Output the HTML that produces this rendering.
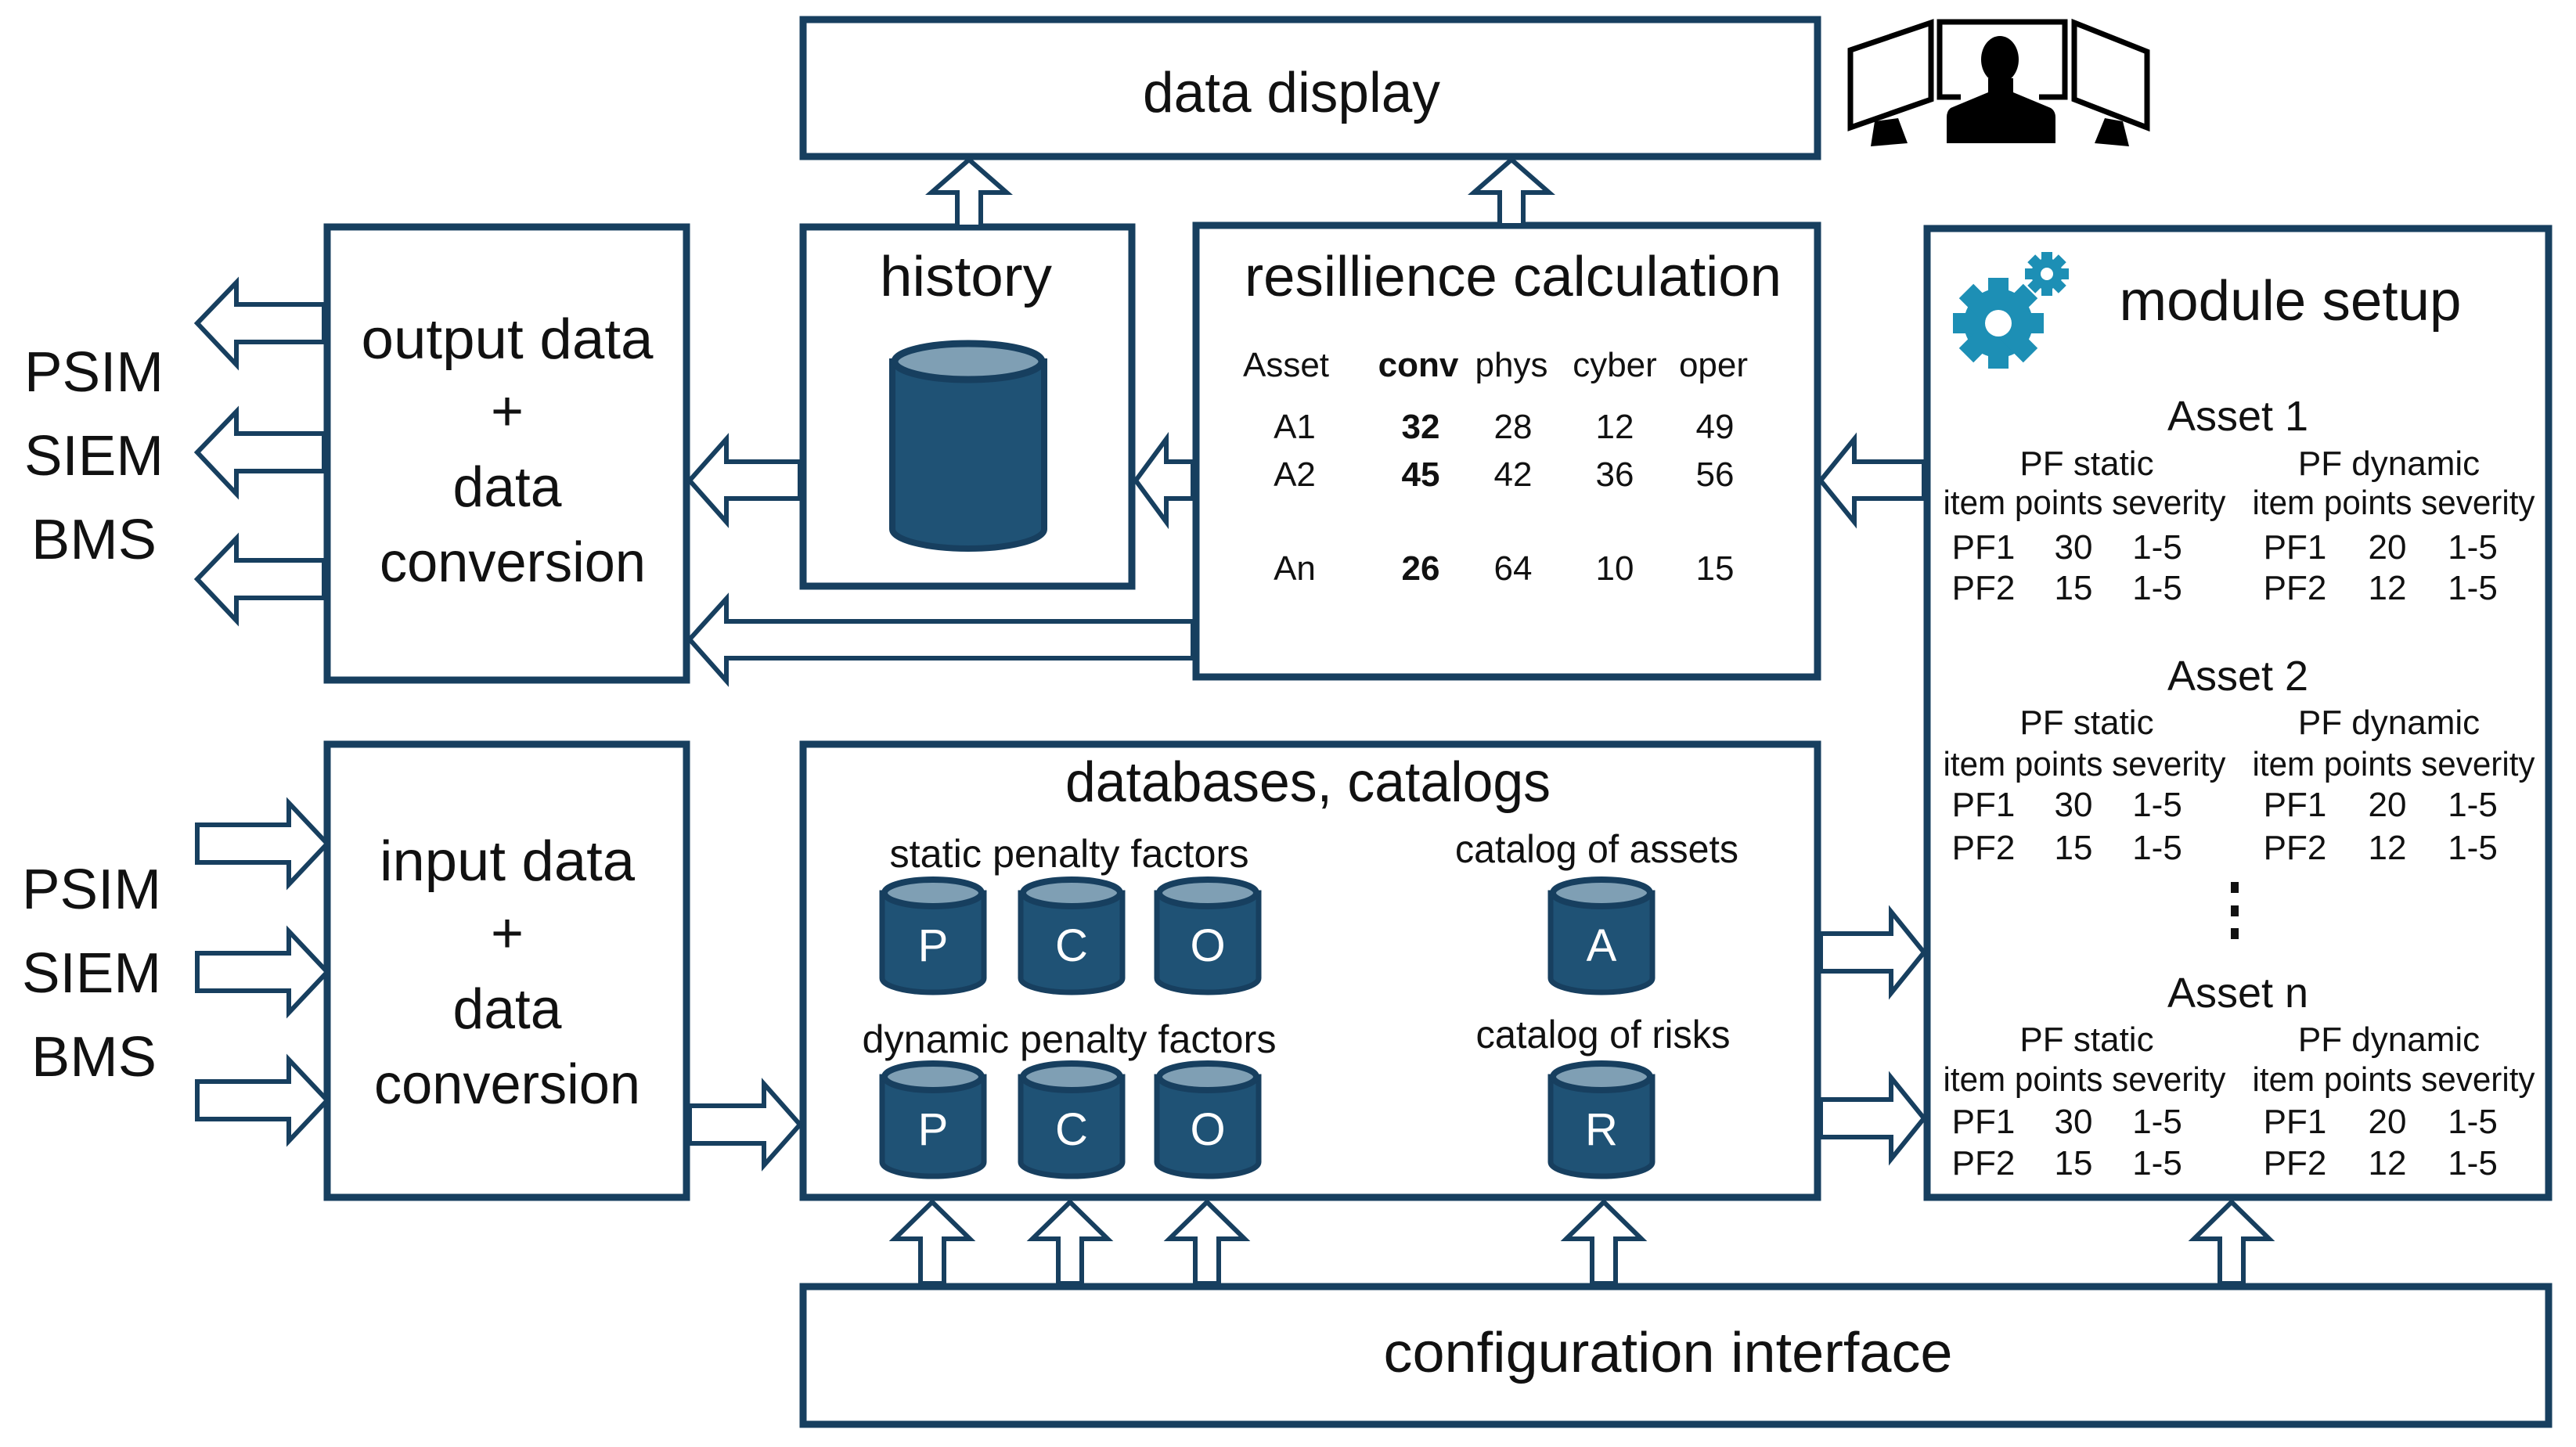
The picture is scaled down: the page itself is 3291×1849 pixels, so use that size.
<!DOCTYPE html>
<html><head><meta charset="utf-8"><style>
html,body{margin:0;padding:0;background:#fff}
svg{display:block}
text{font-family:"Liberation Sans",sans-serif;fill:#111}
</style></head><body>
<svg width="3291" height="1849" viewBox="0 0 3291 1849" xmlns="http://www.w3.org/2000/svg">
<g fill="#fff" stroke="#173f5f" stroke-width="9">
<rect x="1026" y="25" width="1296" height="175"/>
<rect x="1026" y="290" width="420" height="459"/>
<rect x="1528" y="288" width="794" height="577"/>
<rect x="418" y="290" width="459" height="579"/>
<rect x="2462" y="292" width="794" height="1238"/>
<rect x="418" y="951" width="459" height="579"/>
<rect x="1026" y="951" width="1296" height="579"/>
<rect x="1026" y="1644" width="2230" height="176"/>
</g>
<!-- arrows -->
<g fill="#fff" stroke="#173f5f" stroke-width="6" stroke-linejoin="miter">
<!-- up arrows to data display -->
<polygon points="1223,290 1223,246 1190,246 1238,204 1286,246 1253,246 1253,290"/>
<polygon points="1916,288 1916,246 1883,246 1931,204 1979,246 1946,246 1946,288"/>
<!-- left arrows out of output box -->
<polygon points="414,389 302,389 302,361 252,413 302,466 302,437 414,437"/>
<polygon points="414,554 302,554 302,526 252,578 302,631 302,602 414,602"/>
<polygon points="414,716 302,716 302,688 252,740 302,793 302,764 414,764"/>
<!-- history -> output -->
<polygon points="1022,590 928,590 928,561 881,614 928,667 928,637 1022,637"/>
<!-- resilience -> history -->
<polygon points="1524,590 1490,590 1490,561 1451,614 1490,667 1490,637 1524,637"/>
<!-- resilience -> output long -->
<polygon points="1524,794 928,794 928,765 881,817 928,870 928,841 1524,841"/>
<!-- module -> resilience -->
<polygon points="2458,590 2369,590 2369,561 2326,614 2369,667 2369,637 2458,637"/>
<!-- input arrows -->
<polygon points="252,1054 369,1054 369,1026 418,1078 369,1130 369,1102 252,1102"/>
<polygon points="252,1218 369,1218 369,1190 418,1242 369,1294 369,1266 252,1266"/>
<polygon points="252,1382 369,1382 369,1354 418,1406 369,1458 369,1430 252,1430"/>
<!-- input -> databases -->
<polygon points="881,1413 976,1413 976,1385 1022,1437 976,1489 976,1461 881,1461"/>
<!-- databases -> module -->
<polygon points="2326,1193 2416,1193 2416,1165 2458,1217 2416,1269 2416,1241 2326,1241"/>
<polygon points="2326,1405 2416,1405 2416,1377 2458,1429 2416,1481 2416,1453 2326,1453"/>
<!-- up arrows from config -->
<polygon points="1176,1640 1176,1583 1143,1583 1191,1536 1239,1583 1206,1583 1206,1640"/>
<polygon points="1352,1640 1352,1583 1319,1583 1367,1536 1415,1583 1382,1583 1382,1640"/>
<polygon points="1527,1640 1527,1583 1494,1583 1542,1536 1590,1583 1557,1583 1557,1640"/>
<polygon points="2034,1640 2034,1583 2001,1583 2049,1536 2097,1583 2064,1583 2064,1640"/>
<polygon points="2836,1640 2836,1583 2803,1583 2851,1536 2899,1583 2866,1583 2866,1640"/>
</g>
<!-- monitors icon -->
<g stroke="#000" stroke-width="7" fill="none" stroke-linejoin="miter">
<polygon points="2364,64 2467,29 2467,127 2364,163"/>
<rect x="2478" y="28" width="160" height="96"/>
<polygon points="2650,29 2743,66 2743,163 2650,127"/>
</g>
<g fill="#000">
<polygon points="2395,155 2425,151 2437,183 2390,187"/>
<polygon points="2689,151 2712,155 2720,187 2676,183"/>
<rect x="2505" y="118" width="100" height="12" fill="#fff"/>
<ellipse cx="2555" cy="76" rx="24" ry="30"/>
<path d="M2540,100 L2540,118 L2492,138 Q2487,142 2487,150 L2487,183 L2626,183 L2626,150 Q2626,142 2620,138 L2572,118 L2572,100 Z"/>
</g>
<!-- cylinders -->
<defs>
<g id="cyl">
<path d="M-65,18 L-65,127 A65,18 0 0 0 65,127 L65,18 Z" fill="#1f5275" stroke="#173f5f" stroke-width="7"/>
<ellipse cx="0" cy="18" rx="62" ry="17" fill="#7f9fb4" stroke="#173f5f" stroke-width="8"/>
</g>
</defs>
<use href="#cyl" x="1192" y="1123"/>
<use href="#cyl" x="1369" y="1123"/>
<use href="#cyl" x="1543" y="1123"/>
<use href="#cyl" x="2046" y="1123"/>
<use href="#cyl" x="1192" y="1358"/>
<use href="#cyl" x="1369" y="1358"/>
<use href="#cyl" x="1543" y="1358"/>
<use href="#cyl" x="2046" y="1358"/>
<path d="M1140,462 L1140,676 A97,25 0 0 0 1334,676 L1334,462 Z" fill="#1f5275" stroke="#173f5f" stroke-width="8"/>
<ellipse cx="1237" cy="462" rx="94" ry="23" fill="#7f9fb4" stroke="#173f5f" stroke-width="9"/>
<g style="font-size:58px" text-anchor="middle">
<text x="1192" y="1228" style="fill:#fff">P</text>
<text x="1369" y="1228" style="fill:#fff">C</text>
<text x="1543" y="1228" style="fill:#fff">O</text>
<text x="2046" y="1228" style="fill:#fff">A</text>
<text x="1192" y="1463" style="fill:#fff">P</text>
<text x="1369" y="1463" style="fill:#fff">C</text>
<text x="1543" y="1463" style="fill:#fff">O</text>
<text x="2046" y="1463" style="fill:#fff">R</text>
</g>
<!-- gears -->
<g fill="#1d8fb5">
<circle cx="2553" cy="413" r="44"/>
<g transform="translate(2553,413)">
<rect x="-13" y="-58" width="26" height="116"/>
<rect x="-13" y="-58" width="26" height="116" transform="rotate(45)"/>
<rect x="-13" y="-58" width="26" height="116" transform="rotate(90)"/>
<rect x="-13" y="-58" width="26" height="116" transform="rotate(135)"/>
</g>
<circle cx="2615" cy="350" r="20"/>
<g transform="translate(2615,350)">
<rect x="-7" y="-28" width="14" height="56"/>
<rect x="-7" y="-28" width="14" height="56" transform="rotate(45)"/>
<rect x="-7" y="-28" width="14" height="56" transform="rotate(90)"/>
<rect x="-7" y="-28" width="14" height="56" transform="rotate(135)"/>
</g>
</g>
<circle cx="2553" cy="413" r="17" fill="#fff"/>
<circle cx="2615" cy="350" r="8" fill="#fff"/>
<!-- labels -->
<g text-anchor="middle" style="font-size:72px">
<text x="1650" y="143" textLength="380" lengthAdjust="spacingAndGlyphs">data display</text>
<text x="1234" y="378" textLength="220" lengthAdjust="spacingAndGlyphs">history</text>
<text x="1933" y="378" textLength="686" lengthAdjust="spacingAndGlyphs">resillience calculation</text>
<text x="2926" y="409" textLength="437" lengthAdjust="spacingAndGlyphs">module setup</text>
<text x="648" y="458" textLength="373" lengthAdjust="spacingAndGlyphs">output data</text>
<text x="648" y="550">+</text>
<text x="648" y="647" textLength="139" lengthAdjust="spacingAndGlyphs">data</text>
<text x="655" y="743" textLength="340" lengthAdjust="spacingAndGlyphs">conversion</text>
<text x="648" y="1125" textLength="326" lengthAdjust="spacingAndGlyphs">input data</text>
<text x="648" y="1217">+</text>
<text x="648" y="1314" textLength="139" lengthAdjust="spacingAndGlyphs">data</text>
<text x="648" y="1410" textLength="340" lengthAdjust="spacingAndGlyphs">conversion</text>
<text x="1671" y="1024" textLength="620" lengthAdjust="spacingAndGlyphs">databases, catalogs</text>
<text x="2131" y="1753" textLength="727" lengthAdjust="spacingAndGlyphs">configuration interface</text>
<text x="120" y="500" textLength="178" lengthAdjust="spacingAndGlyphs">PSIM</text>
<text x="120" y="607" textLength="178" lengthAdjust="spacingAndGlyphs">SIEM</text>
<text x="120" y="714" textLength="160" lengthAdjust="spacingAndGlyphs">BMS</text>
<text x="117" y="1161" textLength="178" lengthAdjust="spacingAndGlyphs">PSIM</text>
<text x="117" y="1268" textLength="178" lengthAdjust="spacingAndGlyphs">SIEM</text>
<text x="120" y="1375" textLength="160" lengthAdjust="spacingAndGlyphs">BMS</text>
</g>
<g text-anchor="middle" style="font-size:50px">
<text x="1366" y="1108" textLength="459" lengthAdjust="spacingAndGlyphs">static penalty factors</text>
<text x="1366" y="1345" textLength="529" lengthAdjust="spacingAndGlyphs">dynamic penalty factors</text>
<text x="2040" y="1102" textLength="362" lengthAdjust="spacingAndGlyphs">catalog of assets</text>
<text x="2048" y="1339" textLength="325" lengthAdjust="spacingAndGlyphs">catalog of risks</text>
</g>
<!-- resilience table -->
<g text-anchor="middle" style="font-size:44px">
<text x="1643" y="481">Asset</text>
<text x="1812" y="481" font-weight="bold">conv</text>
<text x="1931" y="481">phys</text>
<text x="2063" y="481">cyber</text>
<text x="2189" y="481">oper</text>
<text x="1654" y="560">A1</text><text x="1815" y="560" font-weight="bold">32</text><text x="1933" y="560">28</text><text x="2063" y="560">12</text><text x="2191" y="560">49</text>
<text x="1654" y="621">A2</text><text x="1815" y="621" font-weight="bold">45</text><text x="1933" y="621">42</text><text x="2063" y="621">36</text><text x="2191" y="621">56</text>
<text x="1654" y="741">An</text><text x="1815" y="741" font-weight="bold">26</text><text x="1933" y="741">64</text><text x="2063" y="741">10</text><text x="2191" y="741">15</text>
</g>
<!-- module setup tables -->
<g text-anchor="middle" style="font-size:44px">
<text x="2859" y="550" style="font-size:54px">Asset 1</text>
<text x="2666" y="607">PF static</text><text x="3052" y="607">PF dynamic</text>
<text x="2663" y="657" textLength="361" lengthAdjust="spacingAndGlyphs">item points severity</text>
<text x="3058" y="657" textLength="361" lengthAdjust="spacingAndGlyphs">item points severity</text>
<text x="2534" y="714">PF1</text><text x="2649" y="714">30</text><text x="2756" y="714">1-5</text>
<text x="2932" y="714">PF1</text><text x="3050" y="714">20</text><text x="3159" y="714">1-5</text>
<text x="2534" y="766">PF2</text><text x="2649" y="766">15</text><text x="2756" y="766">1-5</text>
<text x="2932" y="766">PF2</text><text x="3050" y="766">12</text><text x="3159" y="766">1-5</text>

<text x="2859" y="882" style="font-size:54px">Asset 2</text>
<text x="2666" y="938">PF static</text><text x="3052" y="938">PF dynamic</text>
<text x="2663" y="991" textLength="361" lengthAdjust="spacingAndGlyphs">item points severity</text>
<text x="3058" y="991" textLength="361" lengthAdjust="spacingAndGlyphs">item points severity</text>
<text x="2534" y="1043">PF1</text><text x="2649" y="1043">30</text><text x="2756" y="1043">1-5</text>
<text x="2932" y="1043">PF1</text><text x="3050" y="1043">20</text><text x="3159" y="1043">1-5</text>
<text x="2534" y="1098">PF2</text><text x="2649" y="1098">15</text><text x="2756" y="1098">1-5</text>
<text x="2932" y="1098">PF2</text><text x="3050" y="1098">12</text><text x="3159" y="1098">1-5</text>

<text x="2859" y="1287" style="font-size:54px">Asset n</text>
<text x="2666" y="1343">PF static</text><text x="3052" y="1343">PF dynamic</text>
<text x="2663" y="1394" textLength="361" lengthAdjust="spacingAndGlyphs">item points severity</text>
<text x="3058" y="1394" textLength="361" lengthAdjust="spacingAndGlyphs">item points severity</text>
<text x="2534" y="1448">PF1</text><text x="2649" y="1448">30</text><text x="2756" y="1448">1-5</text>
<text x="2932" y="1448">PF1</text><text x="3050" y="1448">20</text><text x="3159" y="1448">1-5</text>
<text x="2534" y="1501">PF2</text><text x="2649" y="1501">15</text><text x="2756" y="1501">1-5</text>
<text x="2932" y="1501">PF2</text><text x="3050" y="1501">12</text><text x="3159" y="1501">1-5</text>
</g>
<g fill="#111">
<rect x="2850" y="1127" width="10" height="14"/>
<rect x="2850" y="1157" width="10" height="14"/>
<rect x="2850" y="1186" width="10" height="14"/>
</g>
</svg>
</body></html>
